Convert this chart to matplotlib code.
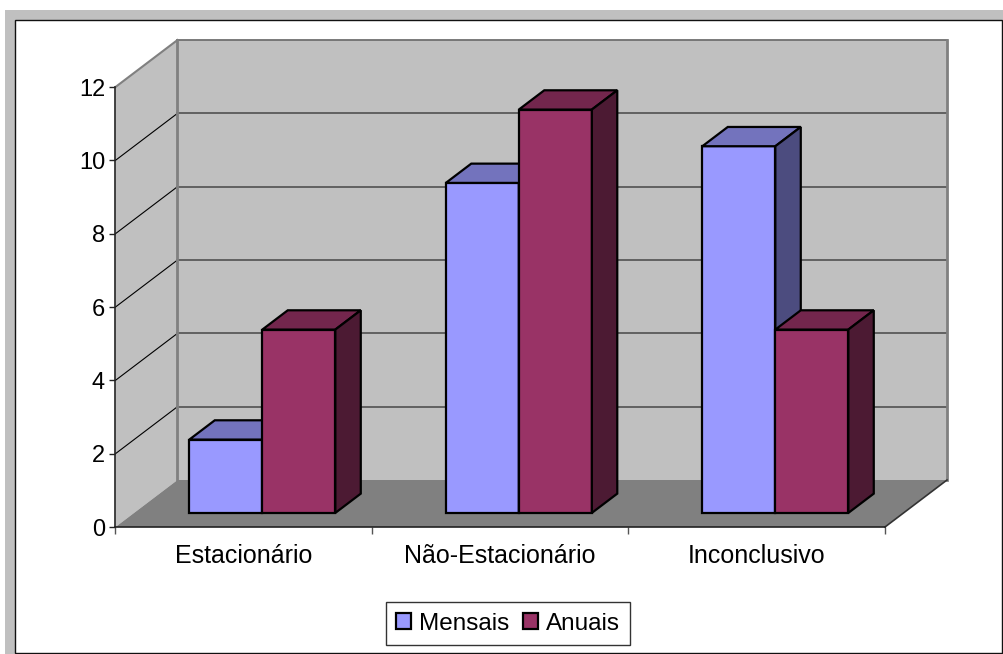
import matplotlib
matplotlib.use('Agg')
import matplotlib.pyplot as plt
from matplotlib.patches import Polygon, Rectangle

plt.rcParams['font.family'] = ['Liberation Sans', 'DejaVu Sans']

categorias = ['Estacionário', 'Não-Estacionário', 'Inconclusivo']
mensais = [2, 9, 10]
anuais = [5, 11, 5]
series = ['Mensais', 'Anuais']
yticks = [0, 2, 4, 6, 8, 10, 12]

W, H = 1004, 654
# deslocamento obliquo da parede do fundo, em unidades dos eixos
DX = 62 / 256.5
DY = 47 / (440 / 12)
# profundidade das barras (frente e fundo)
D0, D1 = 0.30, 0.71
BAR_W = 73 / 256.5

cores = {'Mensais': ('#9999ff', '#7373bd', '#4c4c7f'),
         'Anuais': ('#993366', '#73264d', '#4c1a33')}


def proj(x, y, d):
    return (x + d * DX, y + d * DY)


def caixa(ax, x, valor, cor, z):
    frente, topo, lado = cor
    ax.bar(x + D0 * DX, valor, BAR_W, bottom=D0 * DY, align='edge', color=frente,
           edgecolor='black', linewidth=1.6, zorder=z, clip_on=False)
    pts_topo = [proj(x, valor, D0), proj(x + BAR_W, valor, D0),
                proj(x + BAR_W, valor, D1), proj(x, valor, D1)]
    pts_lado = [proj(x + BAR_W, 0, D0), proj(x + BAR_W, valor, D0),
                proj(x + BAR_W, valor, D1), proj(x + BAR_W, 0, D1)]
    for pts, c in ((pts_topo, topo), (pts_lado, lado)):
        ax.add_patch(Polygon(pts, closed=True, facecolor=c, edgecolor='black',
                             linewidth=1.6, zorder=z, clip_on=False))


fig = plt.figure(figsize=(W / 100, H / 100), dpi=100, facecolor='white')

# moldura cinza e area branca do grafico
fig.add_artist(Rectangle((5 / W, 0), 1 - 5 / W, 1 - 10 / H, transform=fig.transFigure,
                         facecolor='#c0c0c0', edgecolor='none', zorder=-2))
fig.add_artist(Rectangle((15.5 / W, 1.5 / H), (1002.5 - 15.5) / W, (652.5 - 19.5) / H,
                         transform=fig.transFigure, facecolor='white',
                         edgecolor='#111111', linewidth=1.0, zorder=-1))

ax = fig.add_axes([115.5 / W, 1 - 527 / H, (885 - 115.5) / W, 440 / H])
ax.patch.set_visible(False)
ax.set_xlim(0, 3)
ax.set_ylim(0, 12)

# parede lateral, parede do fundo e chao
ax.add_patch(Polygon([proj(0, 0, 0), proj(0, 12, 0), proj(0, 12, 1), proj(0, 0, 1)],
                     closed=True, facecolor='#c0c0c0', edgecolor='none', zorder=1, clip_on=False))
ax.add_patch(Polygon([proj(0, 0, 1), proj(0, 12, 1), proj(3, 12, 1), proj(3, 0, 1)],
                     closed=True, facecolor='#c0c0c0', edgecolor='none', zorder=1, clip_on=False))
ax.add_patch(Polygon([proj(0, 0, 0), proj(3, 0, 0), proj(3, 0, 1), proj(0, 0, 1)],
                     closed=True, facecolor='#808080', edgecolor='none', zorder=1, clip_on=False))

# linhas de grade
for v in yticks[1:]:
    cor = '#808080' if v == 12 else 'black'
    x0, y0 = proj(0, v, 0)
    x1, y1 = proj(0, v, 1)
    ax.plot([x0, x1], [y0, y1], color=cor, lw=0.8 if v < 12 else 1.5, zorder=2, clip_on=False)
    x2, y2 = proj(3, v, 1)
    ax.plot([x1, x2], [y1, y2], color='#595959' if v < 12 else '#707070', lw=1.3, zorder=2, clip_on=False)

borda = '#808080'
for a, b in ((proj(0, 0, 1), proj(0, 12, 1)), (proj(3, 0, 1), proj(3, 12, 1))):
    ax.plot([a[0], b[0]], [a[1], b[1]], color=borda, lw=2, zorder=2, clip_on=False)
a, b = proj(3, 0, 0), proj(3, 0, 1)
ax.plot([a[0], b[0]], [a[1], b[1]], color='#333333', lw=1.2, zorder=2, clip_on=False)

# barras
for i in range(len(categorias)):
    x0 = i + (1 - 2 * BAR_W) / 2
    caixa(ax, x0, mensais[i], cores['Mensais'], 3 + i * 2)
    caixa(ax, x0 + BAR_W, anuais[i], cores['Anuais'], 4 + i * 2)

# eixos
for s in ('top', 'right'):
    ax.spines[s].set_visible(False)
for s in ('left', 'bottom'):
    ax.spines[s].set_color('#222222')
    ax.spines[s].set_linewidth(1.2)
    ax.spines[s].set_zorder(2)
ax.set_yticks(yticks)
ax.tick_params(axis='y', length=4.5, width=1, color='#222222', labelsize=17, pad=3)
ax.set_xticks([0, 1, 2, 3])
ax.set_xticklabels([])
ax.set_xticks([0.5, 1.5, 2.5], minor=True)
ax.set_xticklabels(categorias, minor=True)
ax.tick_params(axis='x', which='major', length=5, width=1, color='#555555')
ax.tick_params(axis='x', which='minor', length=0, labelsize=18, pad=12)

# legenda
patches = [Rectangle((0, 0), 1, 1, facecolor=cores[s][0], edgecolor='black', linewidth=1.6) for s in series]
leg = fig.legend(patches, series, loc='center', bbox_to_anchor=(508 / W, 1 - 623.5 / H),
                 ncol=2, fontsize=17.5, frameon=True, fancybox=False, framealpha=1,
                 edgecolor='#333333', handlelength=0.62, handleheight=0.62, handletextpad=0.3,
                 columnspacing=0.6, borderpad=0.42, borderaxespad=0)
leg.get_frame().set_linewidth(1.0)

fig.savefig('out.png', dpi=100, facecolor='white')
